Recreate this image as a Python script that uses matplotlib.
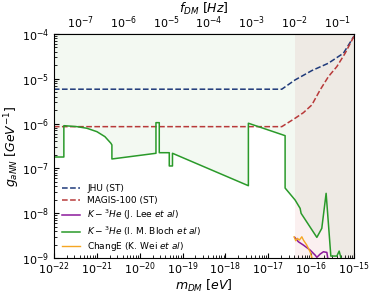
import numpy as np
import matplotlib
matplotlib.use("Agg")
import matplotlib.pyplot as plt
from matplotlib.patches import Rectangle

# conversion m [eV] -> f [Hz]
EV_TO_HZ = 2.418e14

# log10 values
jhu_lm = [-22, -16.687, -16.377, -15.987, -15.600, -15.250, -15.0]
jhu_lg = [-5.234, -5.234, -5.027, -4.819, -4.654, -4.431, -4.045]

magis_lm = [-22, -16.687, -16.377, -16.183, -15.987, -15.794, -15.600, -15.404, -15.210, -15.0]
magis_lg = [-6.069, -6.069, -5.882, -5.757, -5.585, -5.25, -4.953, -4.730, -4.431, -4.045]

lee_lm = [-16.385, -16.30, -16.183, -16.027, -15.91, -15.87, -15.794, -15.717, -15.637, -15.6]
lee_lg = [-8.538, -8.636, -8.710, -8.821, -8.933, -8.984, -8.911, -8.859, -8.873, -9.1]

bloch_lm = [-22, -21.767, -21.767, -21.463, -21.230, -20.997, -20.810, -20.670, -20.647,
            -20.647, -19.620, -19.620, -19.543, -19.543, -19.310, -19.310, -19.235, -19.235,
            -17.466, -17.466, -16.610, -16.610, -16.377, -16.260, -16.237, -15.870, -15.755,
            -15.654, -15.544, -15.404, -15.350, -15.28]
bloch_lg = [-6.746, -6.746, -6.047, -6.069, -6.105, -6.181, -6.292, -6.440, -6.478,
            -6.790, -6.663, -5.980, -5.980, -6.650, -6.650, -6.946, -6.946, -6.663,
            -7.386, -5.993, -6.270, -7.438, -7.705, -7.891, -8.002, -8.538, -8.337,
            -7.556, -8.955, -8.955, -8.844, -9.1]

wei_lm = [-16.40, -16.362, -16.323, -16.277, -16.220, -16.183, -16.105, -16.027, -15.95]
wei_lg = [-8.525, -8.614, -8.560, -8.598, -8.525, -8.598, -8.710, -8.860, -9.1]

f_cut = 1e-2  # Hz
m_cut = f_cut / EV_TO_HZ

fig = plt.figure(figsize=(3.74, 2.97), dpi=100)
ax = fig.add_axes([0.144, 0.131, 0.803, 0.755])

bm = 10 ** np.array(bloch_lm)
bg = 10 ** np.array(bloch_lg)

# shaded regions: pink span at high frequency, excluded region above Bloch curve
ax.axvspan(m_cut, 1e-15, color="#fbf0f0", zorder=0, lw=0)
poly_x = np.concatenate([bm, [1e-15, 1e-15, 1e-22]])
poly_y = np.concatenate([bg, [1e-9, 1e-4, 1e-4]])
ax.fill(poly_x, poly_y, color="#f3f9f2", lw=0, zorder=0.5)
beige = ax.fill(poly_x, poly_y, color="#eeeae4", lw=0, zorder=0.6)[0]
clip = Rectangle((m_cut, 0), 1e-15 - m_cut, 1, transform=ax.get_xaxis_transform())
beige.set_clip_path(clip)

ax.plot(10 ** np.array(jhu_lm), 10 ** np.array(jhu_lg), "--", color="#1f3a7a", lw=1.1, label="JHU (ST)")
ax.plot(10 ** np.array(magis_lm), 10 ** np.array(magis_lg), "--", color="#b83a3a", lw=1.1, label="MAGIS-100 (ST)")
ax.plot(10 ** np.array(lee_lm), 10 ** np.array(lee_lg), "-", color="#8b1a9b", lw=1.1,
        label=r"$K-^3He$ (J. Lee $et$ $al$)")
ax.plot(bm, bg, "-", color="#2a9a2a", lw=1.1, label=r"$K-^3He$ (I. M. Bloch $et$ $al$)")
ax.plot(10 ** np.array(wei_lm), 10 ** np.array(wei_lg), "-", color="#f5a623", lw=1.0,
        label=r"ChangE (K. Wei $et$ $al$)")

ax.set_xscale("log")
ax.set_yscale("log")
ax.set_xlim(1e-22, 1e-15)
ax.set_ylim(1e-9, 1e-4)
ax.set_xticks([10.0 ** k for k in range(-22, -14)])
ax.tick_params(which="both", direction="in", labelsize=8)
ax.tick_params(axis="x", which="both", pad=2)
ax.set_xlabel(r"$m_{DM}$ [$eV$]", fontsize=9, labelpad=0)
ax.set_ylabel(r"$g_{aNN}$ [$GeV^{-1}$]", fontsize=9, labelpad=0)

sec = ax.secondary_xaxis("top", functions=(lambda m: m * EV_TO_HZ, lambda f: f / EV_TO_HZ))
sec.set_xticks([10.0 ** k for k in range(-7, 0)])
sec.tick_params(which="both", direction="in", labelsize=8, pad=2)
sec.set_xlabel(r"$f_{DM}$ [$Hz$]", fontsize=9, labelpad=1)

ax.legend(loc="lower left", bbox_to_anchor=(0.0, -0.015), fontsize=6.5, frameon=False,
          handlelength=2.0, labelspacing=0.28)

fig.savefig("out.png", dpi=100)
